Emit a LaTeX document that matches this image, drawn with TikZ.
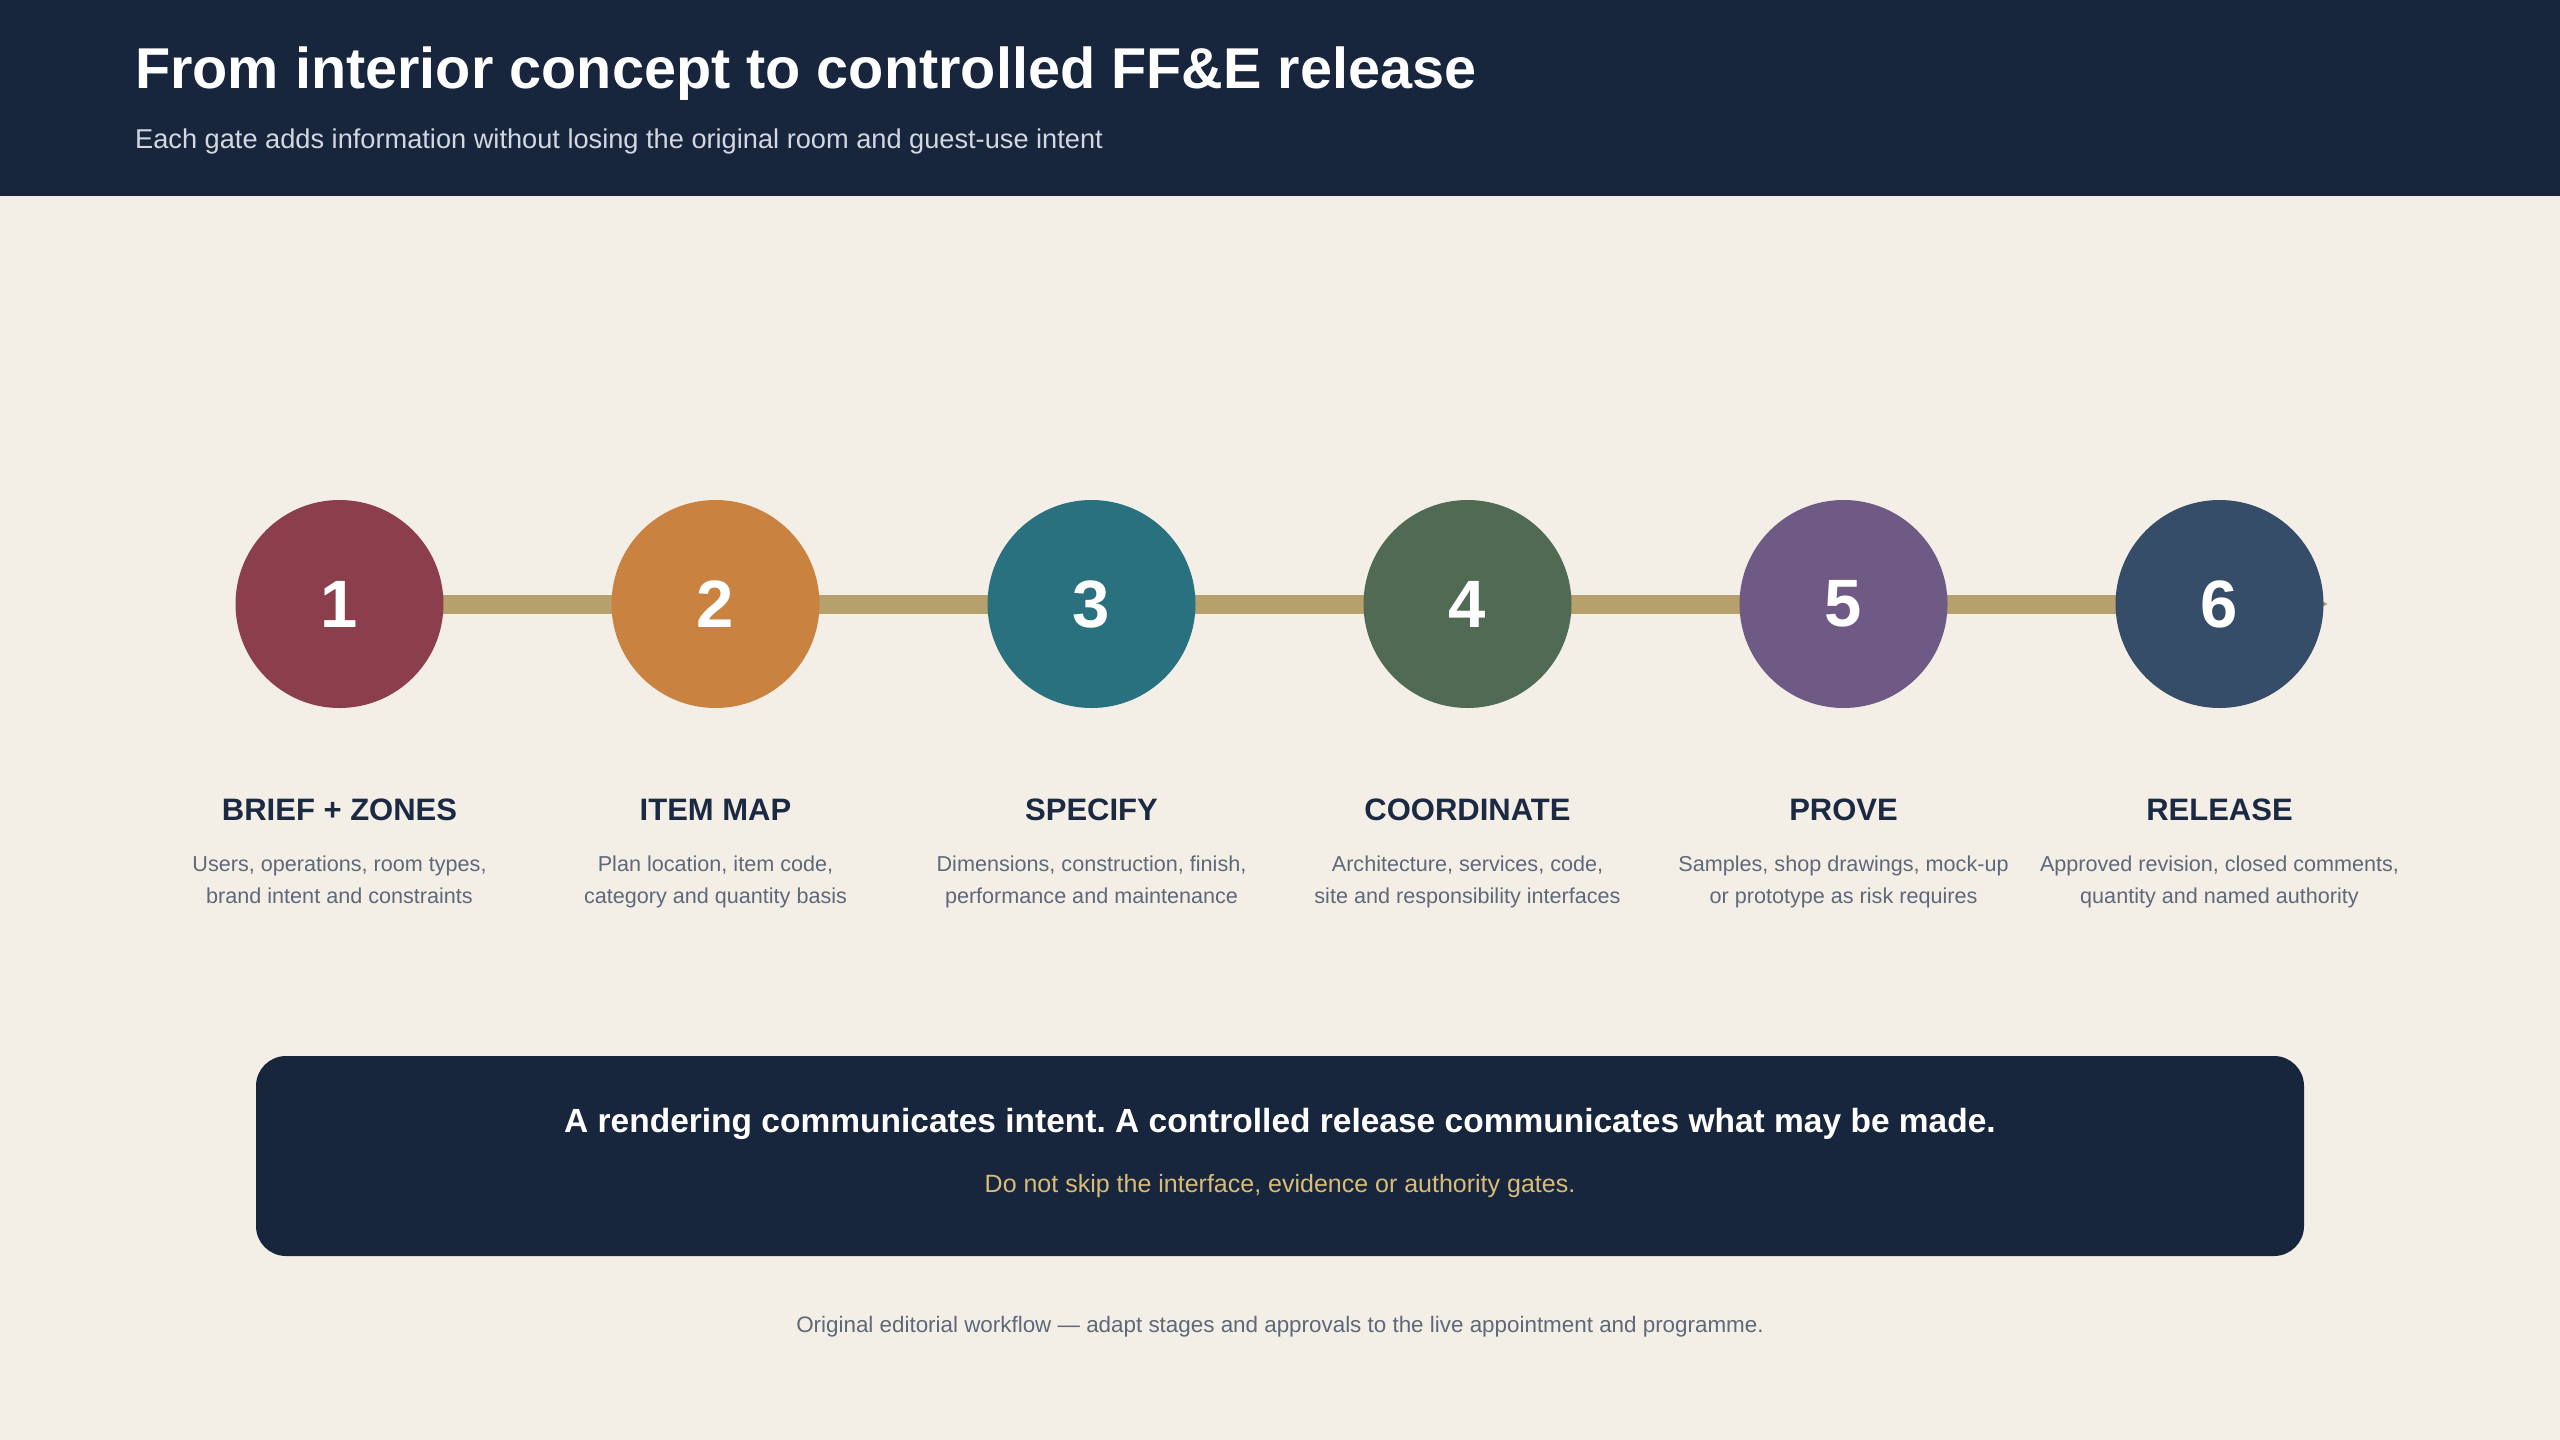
\documentclass[tikz,border=0pt]{standalone}
\usepackage{fontspec}
\setmainfont{Liberation Sans}
\usetikzlibrary{positioning,backgrounds,arrows.meta}
\frenchspacing

\definecolor{pagebg}{HTML}{F3EFE7}
\definecolor{navy}{HTML}{18263D}
\definecolor{track}{HTML}{B6A06B}
\definecolor{inktext}{HTML}{1B2A42}
\definecolor{slate}{HTML}{5E6878}
\definecolor{subgrey}{HTML}{D3D8E0}
\definecolor{amber}{HTML}{D8BC78}
\definecolor{gateA}{HTML}{8B3F4C}
\definecolor{gateB}{HTML}{C98240}
\definecolor{gateC}{HTML}{2A7180}
\definecolor{gateD}{HTML}{506A53}
\definecolor{gateE}{HTML}{6F5A85}
\definecolor{gateF}{HTML}{354D68}

\begin{document}
\begin{tikzpicture}[x=1pt,y=-1pt,node distance=168pt,
  gate/.style={circle,minimum size=208pt,inner sep=0pt,outer sep=0pt,text=white,font=\fontsize{67}{70}\selectfont\bfseries},
  gatename/.style={anchor=base,inner sep=0pt,text=inktext,font=\fontsize{31}{34}\selectfont\bfseries},
  gatetext/.style={anchor=base,inner sep=0pt,align=center,text=slate,font=\fontsize{21.6}{32}\selectfont},
  track/.style={line width=19pt,draw=track,-{Stealth[length=22pt,width=26pt]}}]
  \useasboundingbox (0,0) rectangle (2560,1440);
  \begin{scope}[on background layer]
    \fill[pagebg] (0,0) rectangle (2560,1440);
  \end{scope}

  % header
  \fill[navy] (0,0) rectangle (2560,196);
  \node[anchor=base west,inner sep=0pt,text=white,font=\fontsize{57.6}{66}\selectfont\bfseries] (title) at (135,88) {From interior concept to controlled FF\&E release};
  \node[anchor=base west,inner sep=0pt,text=subgrey,font=\fontsize{27.2}{30}\selectfont] (subtitle) at (135,148) {Each gate adds information without losing the original room and guest-use intent};

  % gates
  \node[gate,fill=gateA] (g1) at (339.5,604) {1};
  \node[gate,fill=gateB] (g2) [right=of g1] {2};
  \node[gate,fill=gateC] (g3) [right=of g2] {3};
  \node[gate,fill=gateD] (g4) [right=of g3] {4};
  \node[gate,fill=gateE] (g5) [right=of g4] {5};
  \node[gate,fill=gateF] (g6) [right=of g5] {6};
  \coordinate (tip) at ([xshift=4pt]g6.east);

  \begin{scope}[on background layer]
    \draw[track] (g1.center) -- (tip);
  \end{scope}

  \node[gatename] (t1) at ([yshift=-112pt]g1.south) {BRIEF + ZONES};
  \node[gatename] (t2) at ([yshift=-112pt]g2.south) {ITEM MAP};
  \node[gatename] (t3) at ([yshift=-112pt]g3.south) {SPECIFY};
  \node[gatename] (t4) at ([yshift=-112pt]g4.south) {COORDINATE};
  \node[gatename] (t5) at ([yshift=-112pt]g5.south) {PROVE};
  \node[gatename] (t6) at ([yshift=-112pt]g6.south) {RELEASE};

  % base of a two-line node sits on its last line
  \node[gatetext] (d1) at ([yshift=-83pt]t1.base) {Users, operations, room types,\\brand intent and constraints};
  \node[gatetext] (d2) at ([yshift=-83pt]t2.base) {Plan location, item code,\\category and quantity basis};
  \node[gatetext] (d3) at ([yshift=-83pt]t3.base) {Dimensions, construction, finish,\\performance and maintenance};
  \node[gatetext] (d4) at ([yshift=-83pt]t4.base) {Architecture, services, code,\\site and responsibility interfaces};
  \node[gatetext] (d5) at ([yshift=-83pt]t5.base) {Samples, shop drawings, mock-up\\or prototype as risk requires};
  \node[gatetext] (d6) at ([yshift=-83pt]t6.base) {Approved revision, closed comments,\\quantity and named authority};

  % note box
  \node[fill=navy,rounded corners=30pt,minimum width=2048pt,minimum height=200pt,inner sep=0pt] (note) at (1280,1156) {};
  \node[anchor=base,inner sep=0pt,text=white,font=\fontsize{33.5}{38}\selectfont\bfseries] (notehead) at ([yshift=24pt]note.center) {A rendering communicates intent. A controlled release communicates what may be made.};
  \node[anchor=base,inner sep=0pt,text=amber,font=\fontsize{25}{30}\selectfont] (notesub) at ([yshift=-36pt]note.center) {Do not skip the interface, evidence or authority gates.};

  \node[anchor=base,inner sep=0pt,text=slate,font=\fontsize{22.4}{26}\selectfont] (footer) at (1280,1332) {Original editorial workflow — adapt stages and approvals to the live appointment and programme.};
\end{tikzpicture}
\end{document}
